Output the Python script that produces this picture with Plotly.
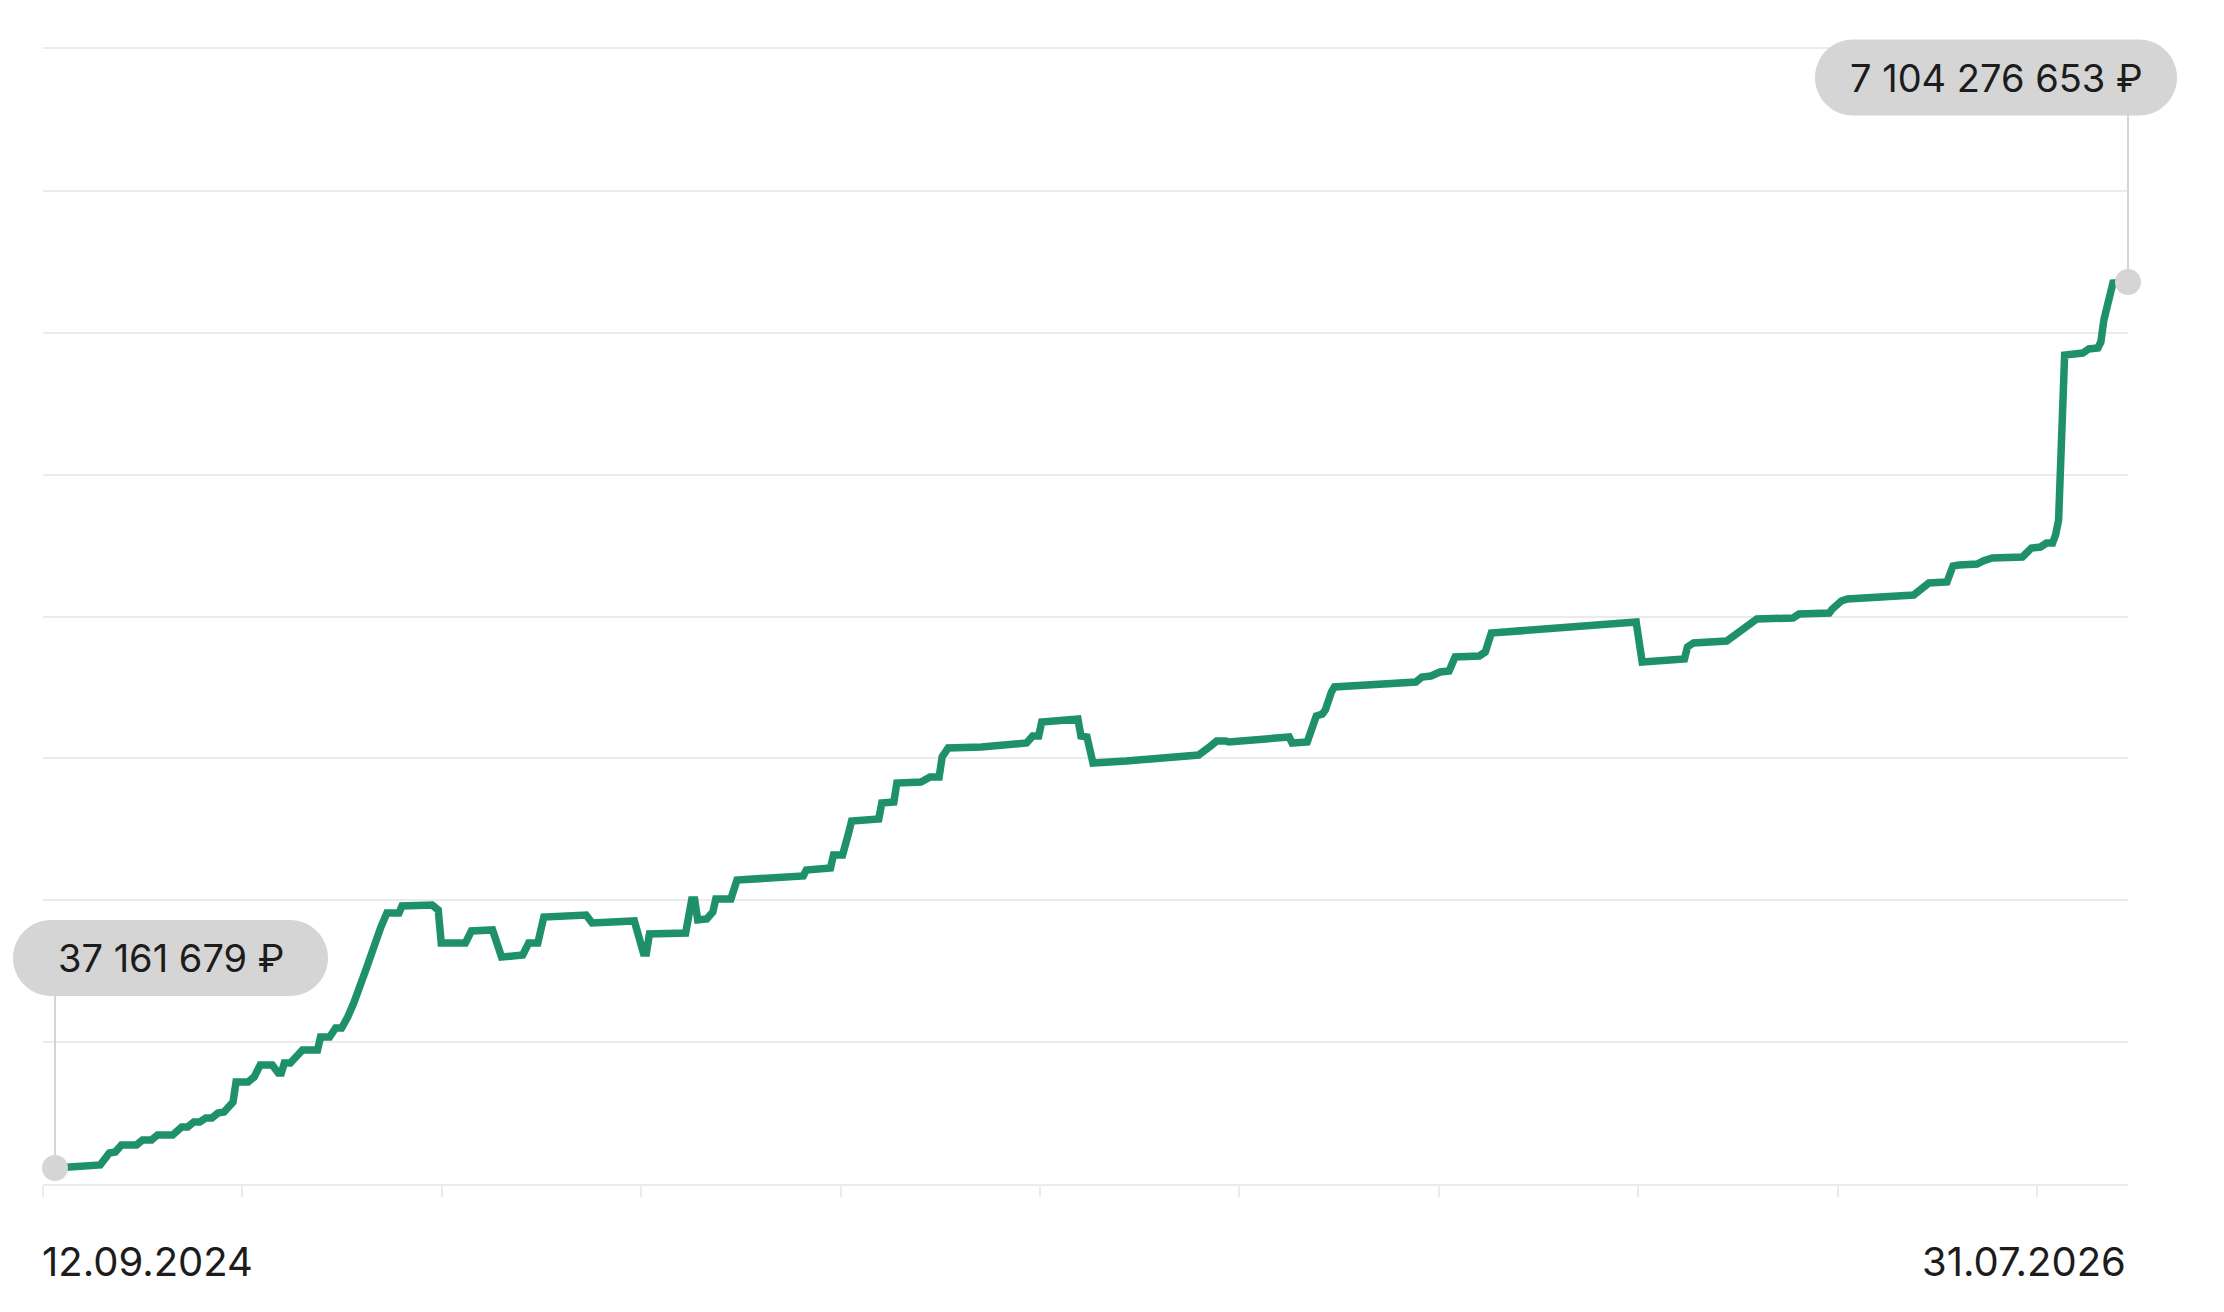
import pandas as pd
import plotly.graph_objects as go

# capital over time, millions of rubles
dates = [
    "2024-09-12", "2024-09-16", "2024-09-21", "2024-09-27", "2024-09-30", "2024-10-02", "2024-10-04",
    "2024-10-09", "2024-10-11", "2024-10-14", "2024-10-16", "2024-10-21", "2024-10-24", "2024-10-26",
    "2024-10-28", "2024-10-30", "2024-11-01", "2024-11-03", "2024-11-05", "2024-11-07", "2024-11-10",
    "2024-11-11", "2024-11-15", "2024-11-17", "2024-11-19", "2024-11-23", "2024-11-25", "2024-11-26",
    "2024-11-27", "2024-11-29", "2024-12-03", "2024-12-08", "2024-12-09", "2024-12-12", "2024-12-14",
    "2024-12-16", "2024-12-18", "2024-12-20", "2024-12-24", "2024-12-27", "2024-12-28", "2024-12-29",
    "2024-12-31", "2025-01-04", "2025-01-05", "2025-01-15", "2025-01-17", "2025-01-18", "2025-01-26",
    "2025-01-28", "2025-02-04", "2025-02-07", "2025-02-14", "2025-02-16", "2025-02-19", "2025-02-21",
    "2025-03-07", "2025-03-09", "2025-03-23", "2025-03-26", "2025-03-27", "2025-03-28", "2025-04-09",
    "2025-04-11", "2025-04-12", "2025-04-13", "2025-04-16", "2025-04-18", "2025-04-19", "2025-04-24",
    "2025-04-26", "2025-04-30", "2025-05-18", "2025-05-19", "2025-05-27", "2025-05-28", "2025-05-31",
    "2025-06-02", "2025-06-03", "2025-06-12", "2025-06-13", "2025-06-17", "2025-06-18", "2025-06-26",
    "2025-06-29", "2025-07-02", "2025-07-03", "2025-07-05", "2025-07-16", "2025-07-31", "2025-08-02",
    "2025-08-04", "2025-08-05", "2025-08-17", "2025-08-18", "2025-08-20", "2025-08-22", "2025-09-02",
    "2025-09-15", "2025-09-17", "2025-09-26", "2025-09-30", "2025-10-02", "2025-10-05", "2025-10-06",
    "2025-10-26", "2025-10-27", "2025-11-01", "2025-11-03", "2025-11-04", "2025-11-06", "2025-11-07",
    "2025-11-09", "2025-11-10", "2025-12-07", "2025-12-09", "2025-12-12", "2025-12-15", "2025-12-18",
    "2025-12-20", "2025-12-28", "2025-12-30", "2026-01-01", "2026-02-18", "2026-02-20", "2026-03-06",
    "2026-03-07", "2026-03-09", "2026-03-20", "2026-03-22", "2026-03-24", "2026-03-25", "2026-03-27",
    "2026-03-29", "2026-03-30", "2026-04-11", "2026-04-13", "2026-04-23", "2026-04-24", "2026-04-27",
    "2026-04-29", "2026-05-21", "2026-05-22", "2026-05-24", "2026-05-26", "2026-06-01", "2026-06-03",
    "2026-06-05", "2026-06-11", "2026-06-13", "2026-06-15", "2026-06-16", "2026-06-26", "2026-06-28",
    "2026-06-29", "2026-07-02", "2026-07-04", "2026-07-06", "2026-07-07", "2026-07-08", "2026-07-09",
    "2026-07-10", "2026-07-16", "2026-07-18", "2026-07-21", "2026-07-22", "2026-07-23", "2026-07-26",
    "2026-07-31",
]
capital_mln = [
    37.161679, 45.1, 45.1, 61.1, 156.8, 164.8, 220.6,
    220.6, 260.5, 260.5, 300.4, 300.4, 364.2, 364.2,
    404.1, 404.1, 436.0, 436.0, 475.9, 483.8, 563.6,
    723.1, 723.1, 763.0, 858.8, 858.8, 794.9, 794.9,
    874.7, 874.7, 978.4, 978.4, 1082.1, 1082.1, 1153.9,
    1153.9, 1241.6, 1353.3, 1616.5, 1831.9, 1911.6, 1959.5,
    2071.2, 2071.2, 2127.0, 2135.0, 2095.1, 1831.9, 1831.9,
    1927.6, 1935.6, 1720.2, 1736.1, 1831.9, 1831.9, 2039.3,
    2055.2, 1991.4, 2007.4, 1752.1, 1752.1, 1903.7, 1911.6,
    2174.9, 2174.9, 2015.3, 2023.3, 2079.2, 2182.8, 2182.8,
    2334.4, 2342.4, 2366.3, 2414.2, 2430.1, 2533.8, 2533.8,
    2709.3, 2805.0, 2821.0, 2948.6, 2956.6, 3108.1, 3116.1,
    3156.0, 3156.0, 3315.5, 3387.3, 3395.3, 3427.2, 3483.0,
    3483.0, 3594.7, 3618.6, 3483.0, 3475.0, 3267.6, 3283.6,
    3307.5, 3315.5, 3331.4, 3403.2, 3443.1, 3443.1, 3435.1,
    3475.0, 3427.2, 3435.1, 3586.7, 3642.6, 3658.5, 3690.4,
    3834.0, 3873.9, 3913.7, 3953.6, 3961.6, 3993.5, 4001.5,
    4113.2, 4121.1, 4153.0, 4304.6, 4392.3, 4073.3, 4097.2,
    4192.9, 4224.8, 4240.8, 4272.7, 4304.6, 4336.5, 4352.4,
    4400.3, 4416.3, 4424.2, 4456.1, 4464.1, 4496.0, 4559.8,
    4575.8, 4607.7, 4623.6, 4671.5, 4703.4, 4711.4, 4839.0,
    4847.0, 4855.0, 4878.9, 4886.9, 4902.8, 4910.8, 4966.6,
    4982.6, 4990.6, 5022.5, 5022.5, 5086.3, 5206.0, 5890.0,
    6522.0, 6538.0, 6570.0, 6577.9, 6625.8, 6801.3, 7096.4,
    7104.276653,
]

start_label = "37 161 679 ₽"
end_label = "7 104 276 653 ₽"
first_date_label = "12.09.2024"
last_date_label = "31.07.2026"

GREEN = "#1e9168"
PILL = "#d5d5d5"
GRID = "#ebebeb"
TEXT = "#1c1c1c"
FONT = "Inter"

X_RANGE = ["2024-09-08 00:33", "2026-07-31"]
Y_RANGE = [-90.5, 8962.9]


def xpaper(d):
    x0, x1 = pd.Timestamp(X_RANGE[0]), pd.Timestamp(X_RANGE[1])
    return (pd.Timestamp(d) - x0) / (x1 - x0)


def ypaper(v):
    return (v - Y_RANGE[0]) / (Y_RANGE[1] - Y_RANGE[0])


def pill_path(x0, x1, yc, r):
    # rounded capsule, pixel offsets from the anchor point
    c = 0.5523 * r
    a, b = x0 + r, x1 - r
    return (f"M{a},{yc - r} L{b},{yc - r} "
            f"C{b + c},{yc - r} {b + r},{yc - c} {b + r},{yc} "
            f"C{b + r},{yc + c} {b + c},{yc + r} {b},{yc + r} "
            f"L{a},{yc + r} "
            f"C{a - c},{yc + r} {a - r},{yc + c} {a - r},{yc} "
            f"C{a - r},{yc - c} {a - c},{yc - r} {a},{yc - r} Z")


fig = go.Figure()
fig.add_trace(go.Scatter(x=dates, y=capital_mln, mode="lines",
                         line=dict(color=GREEN, width=7.5), hoverinfo="skip"))

callouts = [
    (dates[0], capital_mln[0], start_label, -42, 273, 210, 172),
    (dates[-1], capital_mln[-1], end_label, -313, 49, 204.5, 167),
]
for x, y, label, px0, px1, yc, stem in callouts:
    xa, ya = xpaper(x), ypaper(y)
    fig.add_shape(type="line", xref="paper", yref="paper", ysizemode="pixel", yanchor=ya,
                  x0=xa, x1=xa, y0=0, y1=stem, line=dict(color=PILL, width=2))
    fig.add_shape(type="path", xref="paper", yref="paper", xsizemode="pixel", ysizemode="pixel",
                  xanchor=xa, yanchor=ya, path=pill_path(px0, px1, yc, 38),
                  fillcolor=PILL, line=dict(width=0))
    fig.add_annotation(x=x, y=y, text=label, showarrow=False, xshift=(px0 + px1) / 2, yshift=yc,
                       font=dict(family=FONT, size=38, color=TEXT))

fig.add_trace(go.Scatter(x=[dates[0], dates[-1]], y=[capital_mln[0], capital_mln[-1]],
                         mode="markers", marker=dict(size=26, color=PILL),
                         cliponaxis=False, hoverinfo="skip"))

fig.add_annotation(xref="paper", yref="paper", x=0, y=0, xanchor="left", yanchor="middle",
                   xshift=-3, yshift=-77, text=first_date_label, showarrow=False,
                   font=dict(family=FONT, size=40, color=TEXT))
fig.add_annotation(xref="paper", yref="paper", x=1, y=0, xanchor="right", yanchor="middle",
                   yshift=-77, text=last_date_label, showarrow=False,
                   font=dict(family=FONT, size=40, color=TEXT))

fig.update_layout(
    width=2216, height=1304,
    margin=dict(l=35, r=96, t=41, b=128),
    paper_bgcolor="white", plot_bgcolor="white",
    showlegend=False,
    xaxis=dict(type="date", range=X_RANGE,
               showgrid=False, zeroline=False, showticklabels=False,
               showline=True, mirror=True, linecolor=GRID, linewidth=2,
               ticks="outside", ticklen=11, tickwidth=2, tickcolor=GRID,
               tick0=X_RANGE[0], dtick=5709312000),
    yaxis=dict(range=Y_RANGE, showgrid=True, gridcolor=GRID, gridwidth=2,
               tick0=-90.46, dtick=1131.665, zeroline=False, showticklabels=False),
)

fig.write_html("out.html")
